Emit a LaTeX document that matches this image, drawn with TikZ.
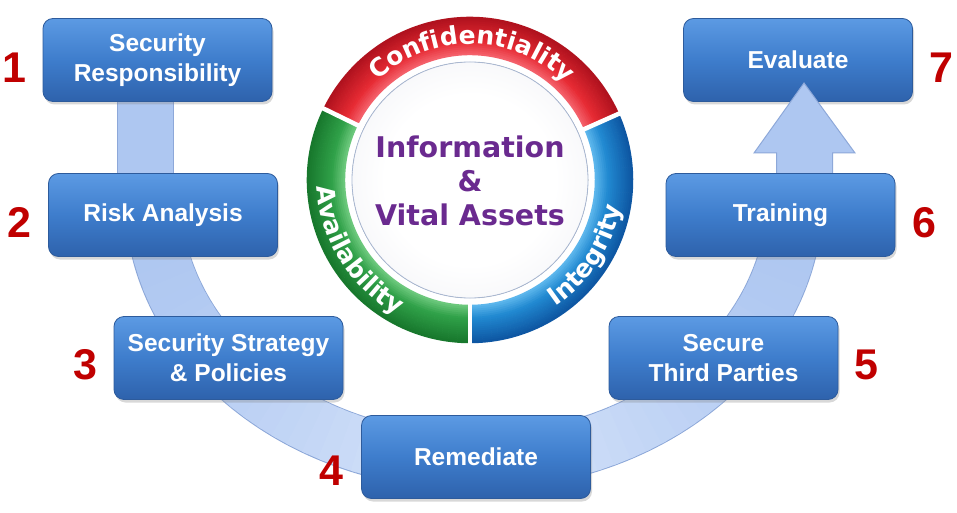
\documentclass[tikz,border=0pt]{standalone}
\usepackage{fontspec}
\setmainfont{Liberation Sans}
\newfontfamily\djfam{DejaVu Sans}
\usetikzlibrary{shadows,decorations.text}

\definecolor{boxtop}{HTML}{5C9AE3}
\definecolor{boxmid}{HTML}{3E7DCC}
\definecolor{boxbot}{HTML}{2E62AC}
\definecolor{boxedge}{HTML}{2D5B9C}
\definecolor{numred}{HTML}{C00000}
\definecolor{bandedge}{HTML}{8DA8D9}
\definecolor{bandtop}{HTML}{AEC7F1}
\definecolor{bandbot}{HTML}{DAE6FA}
\definecolor{redL}{HTML}{F4606A}
\definecolor{redM}{HTML}{E62A33}
\definecolor{redD}{HTML}{B0121E}
\definecolor{greenL}{HTML}{6CC87C}
\definecolor{greenM}{HTML}{2FA048}
\definecolor{greenD}{HTML}{18782D}
\definecolor{blueL}{HTML}{5CB6EC}
\definecolor{blueM}{HTML}{2189D1}
\definecolor{blueD}{HTML}{0E57A3}
\definecolor{discmid}{HTML}{EBECF2}
\definecolor{discout}{HTML}{D3D6E1}
\definecolor{discedge}{HTML}{A9B8D2}
\definecolor{purpletext}{HTML}{6A2A8F}

\pgfdeclareradialshading{discshade}{\pgfpoint{0bp}{0bp}}{color(0bp)=(white); color(18bp)=(white); color(40bp)=(discmid); color(50bp)=(discout)}

\newcommand\ringstyle{\color{white}\djfam\bfseries\fontsize{25}{25}\selectfont}

\newcommand\ringseg[5]{%
  \foreach \myr in {126,128,...,162}{%
    \pgfmathsetmacro\myt{(\myr-126)/36}%
    \pgfmathtruncatemacro\myflag{\myt<0.35 ? 1 : 0}%
    \ifnum\myflag=1
      \pgfmathtruncatemacro\myp{100*(1-\myt/0.35)}%
      \colorlet{segc}{#3!\myp!#4}%
    \else
      \pgfmathtruncatemacro\myp{100*(\myt-0.35)/0.65}%
      \colorlet{segc}{#5!\myp!#4}%
    \fi
    \draw[segc, line width=2.5pt] (470,-180) ++(#1:\myr pt) arc[start angle=#1, end angle=#2, radius=\myr pt];
  }%
}

\tikzset{
  stepbox/.style={rectangle, rounded corners=10pt, minimum width=229pt, minimum height=83pt,
    inner sep=2pt, top color=boxtop, bottom color=boxbot, middle color=boxmid,
    draw=boxedge, line width=0.8pt, text=white, align=center,
    font=\bfseries\fontsize{24.5}{30}\selectfont,
    drop shadow={opacity=0.3, shadow xshift=1.5pt, shadow yshift=-3pt}},
  numlabel/.style={text=numred, font=\bfseries\fontsize{43}{43}\selectfont, inner sep=0pt},
  ringtext/.style={decorate, decoration={text along path, text align=center, text={|\ringstyle|#1}}}
}

\begin{document}
\begin{tikzpicture}[x=1pt,y=1pt]
\useasboundingbox (0,0) rectangle (957,-513);
\fill[white] (0,0) rectangle (957,-513);

% ---- the light blue band (behind the boxes)
\draw[bandedge, line width=57pt] (145,-95) -- (145,-215);
\draw[bandedge, line width=57pt] (153,-197) arc[start angle=180, end angle=361, x radius=321pt, y radius=265pt];
\draw[bandtop, line width=55pt] (145,-95) -- (145,-215);
\foreach \a in {180,183,...,357}{
  \pgfmathsetmacro\ae{\a+4}
  \pgfmathtruncatemacro\bm{100*abs(cos(\a+1.5))}
  \draw[bandtop!\bm!bandbot, line width=55pt] (474,-197) ++(\a:321pt and 265pt)
    arc[start angle=\a, end angle=\ae, x radius=321pt, y radius=265pt];
}

% ---- central circle
\ringseg{24}{154}{redL}{redM}{redD}
\ringseg{154}{270}{greenL}{greenM}{greenD}
\ringseg{-90}{24}{blueL}{blueM}{blueD}
\foreach \s in {24,154,270}
  \draw[white, line width=4.5pt] (470,-180) ++(\s:119pt) -- ++(\s:48pt);
\fill[shading=discshade] (470,-180) circle[radius=118pt];
\draw[discedge, line width=0.8pt] (470,-180) circle[radius=118pt];

\path[ringtext=Confidentiality] (470,-180) ++(154:136pt) arc[start angle=154, end angle=24, radius=136pt];
\path[ringtext=Availability] (470,-180) ++(154:153pt) arc[start angle=154, end angle=270, radius=153pt];
\path[ringtext=Integrity] (470,-180) ++(-90:153pt) arc[start angle=-90, end angle=24, radius=153pt];

\node[text=purpletext, align=center, inner sep=0pt,
      font=\djfam\bfseries\fontsize{28.5}{34}\selectfont] (core) at (470,-181)
      {Information\\\&\\Vital Assets};

% ---- step 7 box, then the arrow head over it
\node[stepbox] (b7) at (798,-60) {Evaluate};
\filldraw[fill=bandtop, draw=bandedge, line width=1pt]
  (776.5,-240) -- (776.5,-153) -- (754,-153) -- (804,-83) -- (855,-153)
  -- (832.5,-153) -- (832.5,-240) -- cycle;

% ---- other boxes
\node[stepbox] (b1) at (157.5,-60) {Security\\Responsibility};
\node[stepbox] (b2) at (163,-215) {Risk Analysis};
\node[stepbox] (b3) at (228.5,-358) {Security Strategy\\\& Policies};
\node[stepbox] (b4) at (476,-457) {Remediate};
\node[stepbox] (b5) at (723.5,-358) {Secure\\Third Parties};
\node[stepbox] (b6) at (780.5,-215) {Training};

% ---- numbers
\node[numlabel] (n1) at (14,-68) {1};
\node[numlabel] (n2) at (19,-222) {2};
\node[numlabel] (n3) at (85,-365) {3};
\node[numlabel] (n4) at (331,-471) {4};
\node[numlabel] (n5) at (866,-365) {5};
\node[numlabel] (n6) at (924,-223) {6};
\node[numlabel] (n7) at (941,-68) {7};
\end{tikzpicture}
\end{document}
